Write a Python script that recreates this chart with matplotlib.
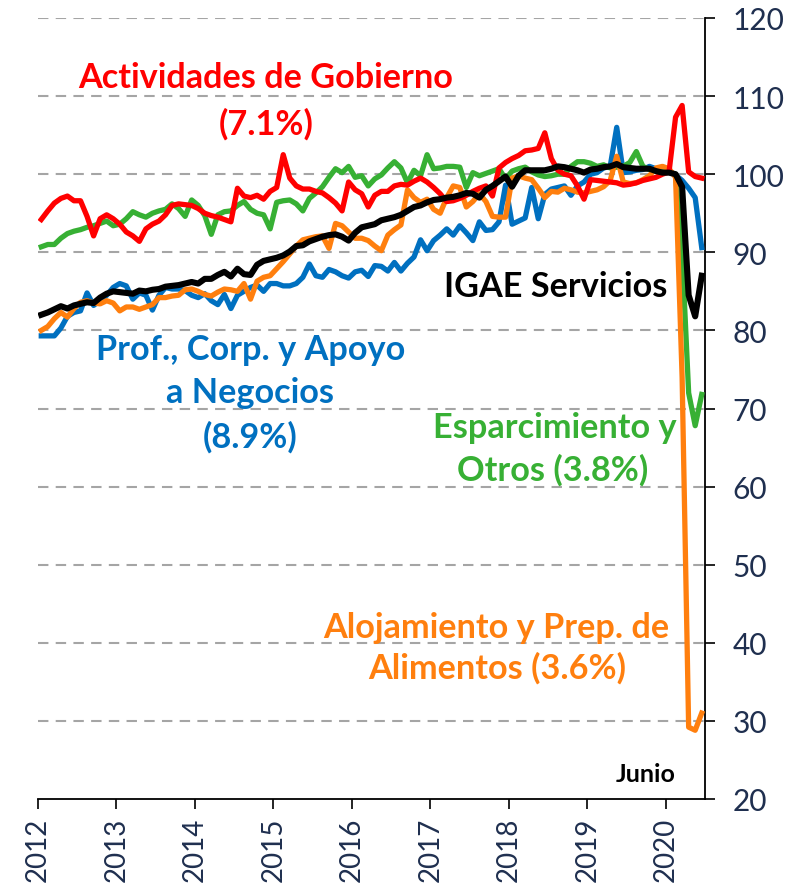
import matplotlib
matplotlib.use("Agg")
import matplotlib.pyplot as plt
import numpy as np

# Monthly index values, Jan 2012 - Jun 2020
gobierno = [94.2, 95.3, 96.3, 96.9, 97.2, 96.6, 96.6, 94.6, 92.1, 94.3, 94.8, 94.3,
            93.6, 92.6, 92.1, 91.4, 93.0, 93.6, 94.0, 94.8, 96.0, 96.2, 96.1, 96.0,
            95.6, 95.0, 94.7, 94.5, 94.2, 93.9, 98.2, 97.2, 97.0, 97.3, 96.8, 97.8,
            98.3, 102.5, 99.5, 98.5, 98.1, 98.1, 97.8, 97.6, 97.0, 96.3, 95.3, 99.0,
            98.0, 97.5, 95.8, 97.3, 97.8, 97.8, 98.5, 98.7, 98.6, 99.1, 99.5, 99.0,
            98.3, 97.5, 96.5, 96.6, 96.9, 97.3, 97.8, 98.2, 98.5, 97.2, 100.8, 101.5,
            102.0, 102.4, 103.0, 103.1, 103.3, 105.3, 102.0, 100.5, 100.0, 99.8, 98.5, 96.8,
            99.3, 99.2, 99.1, 99.0, 98.9, 98.6, 98.7, 98.9, 99.2, 99.4, 99.6, 100.0,
            100.3, 107.3, 108.8, 100.3, 99.7, 99.5]

profesionales = [79.3, 79.3, 79.3, 80.3, 81.8, 82.3, 82.5, 84.8, 83.2, 83.8, 84.5, 85.5,
                 86.0, 85.7, 84.0, 84.8, 84.5, 82.6, 84.5, 85.5, 85.3, 85.3, 85.1, 84.5,
                 84.2, 84.7, 83.8, 83.3, 84.6, 82.8, 84.5, 85.0, 85.5, 85.8, 85.0, 86.0,
                 86.0, 85.7, 85.7, 86.0, 86.8, 88.5, 87.0, 86.8, 87.8, 87.5, 87.0, 86.7,
                 87.5, 87.7, 86.9, 88.3, 88.2, 87.6, 88.7, 87.6, 88.6, 89.4, 91.6, 90.2,
                 91.5, 92.2, 93.0, 92.2, 93.4, 92.5, 91.5, 93.9, 92.8, 92.9, 93.9, 98.6,
                 93.6, 94.0, 94.4, 98.3, 94.3, 97.4, 98.1, 98.3, 98.5, 97.3, 98.5, 99.0,
                 100.0, 100.2, 100.8, 101.0, 106.0, 100.2, 100.3, 100.5, 100.6, 101.0, 100.7, 100.4,
                 100.3, 99.9, 99.2, 98.2, 97.0, 90.6]

alojamiento = [80.0, 80.5, 81.5, 82.3, 81.7, 82.8, 83.6, 83.8, 83.5, 83.4, 83.8, 83.5,
               82.5, 83.0, 83.0, 82.7, 83.0, 83.3, 84.2, 84.2, 84.4, 84.5, 85.2, 85.3,
               85.0, 84.6, 84.4, 84.9, 85.3, 85.2, 85.0, 86.0, 84.0, 86.3, 86.8, 87.0,
               87.9, 88.8, 89.8, 90.8, 91.6, 91.8, 92.0, 92.1, 90.5, 93.7, 93.4, 92.6,
               91.8, 91.8, 91.5, 90.8, 90.2, 92.2, 92.9, 93.5, 98.0, 97.0, 96.4, 96.8,
               95.5, 95.0, 97.0, 98.5, 98.3, 95.8, 96.5, 97.5, 96.5, 94.6, 94.5, 94.5,
               99.5, 99.8, 99.5, 99.3, 98.2, 97.0, 97.8, 97.7, 98.2, 98.0, 97.7, 97.6,
               97.8, 98.0, 98.4, 99.2, 102.3, 99.0, 98.8, 98.9, 99.3, 99.8, 100.8, 101.0,
               100.7, 99.6, 74.0, 29.2, 28.8, 31.0]

esparcimiento = [90.7, 91.0, 91.0, 91.8, 92.4, 92.7, 92.9, 93.2, 93.4, 93.7, 94.0, 93.4,
                 93.6, 94.3, 95.2, 94.8, 94.5, 95.0, 95.3, 95.5, 96.2, 95.6, 94.6, 96.7,
                 96.0, 94.7, 92.3, 94.8, 95.2, 95.3, 96.0, 96.5, 95.5, 95.0, 94.8, 93.0,
                 96.4, 96.6, 96.7, 96.2, 95.3, 96.9, 97.6, 98.4, 99.6, 100.7, 100.2, 101.0,
                 99.6, 99.8, 98.5, 99.4, 99.9, 100.8, 101.6, 100.8, 98.9, 100.5, 99.8, 102.5,
                 100.7, 100.8, 101.0, 101.0, 100.9, 98.3, 100.2, 99.8, 100.1, 100.4, 100.7, 99.4,
                 100.4, 100.7, 100.9, 100.3, 99.9, 99.7, 99.8, 100.0, 100.0, 101.0, 101.6, 101.6,
                 101.4, 101.0, 101.2, 100.8, 100.9, 101.0, 101.5, 102.9, 101.0, 100.6, 100.4, 100.3,
                 100.3, 100.0, 90.0, 72.0, 67.8, 71.8]

igae_servicios = [82.0, 82.3, 82.7, 83.1, 82.8, 83.2, 83.4, 83.6, 83.5, 84.2, 84.7, 85.0,
                  84.9, 84.8, 84.7, 85.1, 85.0, 85.2, 85.3, 85.6, 85.7, 85.8, 86.0, 86.2,
                  86.0, 86.6, 86.6, 87.1, 87.5, 86.9, 87.9, 87.2, 87.1, 88.4, 88.9, 89.1,
                  89.3, 89.6, 90.1, 90.8, 90.9, 91.4, 91.7, 92.0, 92.2, 92.3, 92.0, 91.5,
                  92.5, 93.2, 93.4, 93.6, 94.1, 94.3, 94.5, 94.8, 95.3, 95.8, 96.0, 96.4,
                  96.7, 96.8, 97.0, 97.1, 97.3, 97.6, 97.5, 97.0, 98.0, 98.5, 99.1, 99.7,
                  98.4, 99.8, 100.5, 100.5, 100.5, 100.5, 100.7, 101.0, 100.9, 100.7, 100.5, 100.2,
                  100.6, 100.7, 100.9, 101.0, 101.3, 100.9, 100.8, 100.7, 100.7, 100.7, 100.4, 100.2,
                  100.2, 100.0, 98.4, 84.5, 81.8, 87.0]

start_year = 2012
year_ticks = list(range(2012, 2021))
y_ticks = list(range(20, 130, 10))

n = len(igae_servicios)
x = start_year + (np.arange(n) + 0.5) / 12.0

W, H = 789, 887
fig = plt.figure(figsize=(W / 100, H / 100), dpi=100)
ax = fig.add_axes([38 / W, 1 - 800 / H, (705 - 38) / W, (800 - 19) / H])

FONT = "Lato"
navy = "#1F2F4F"

for yv in y_ticks[1:]:
    ax.axhline(yv, color="#A5A5A5", lw=1.5, ls=(0, (5, 3.5)), zorder=1)

lw = 3.8
ax.plot(x, profesionales, color="#0070C0", lw=lw, zorder=3, solid_joinstyle="round")
ax.plot(x, esparcimiento, color="#37B034", lw=lw, zorder=4, solid_joinstyle="round")
ax.plot(x, alojamiento, color="#FF7F0E", lw=lw, zorder=5, solid_joinstyle="round")
ax.plot(x, gobierno, color="#FF0000", lw=lw, zorder=6, solid_joinstyle="round")
ax.plot(x, igae_servicios, color="#000000", lw=4.4, zorder=7, solid_joinstyle="round")

ax.set_xlim(start_year, start_year + n / 12.0)
ax.set_ylim(20, 120)
ax.set_xticks(year_ticks)
ax.set_xticklabels([str(y) for y in year_ticks], rotation=90, va="top", ha="center",
                   fontfamily=FONT, fontsize=20, color=navy)
ax.set_yticks(y_ticks)
ax.set_yticklabels([str(v) for v in y_ticks], fontfamily=FONT, fontsize=21.5, color=navy)
ax.yaxis.tick_right()
ax.tick_params(axis="y", direction="out", length=7, width=1.2, pad=13, colors="black",
               labelcolor=navy)
ax.tick_params(axis="x", direction="out", length=7, width=1.2, pad=6, colors="black",
               labelcolor=navy)
for s in ["top", "left"]:
    ax.spines[s].set_visible(False)
for s in ["bottom", "right"]:
    ax.spines[s].set_linewidth(1.3)
    ax.spines[s].set_color("black")


def ftext(px, py, s, color, size=24.7):
    fig.text(px / W, 1 - py / H, s, color=color, fontsize=size, fontweight="bold",
             fontfamily=FONT, ha="center", va="center")


ftext(266, 78, "Actividades de Gobierno", "#FF0000")
ftext(266, 124, "(7.1%)", "#FF0000")
ftext(556, 287, "IGAE Servicios", "black")
ftext(251, 350, "Prof., Corp. y Apoyo", "#0070C0")
ftext(250, 393, "a Negocios", "#0070C0")
ftext(250, 437, "(8.9%)", "#0070C0")
ftext(555, 428, "Esparcimiento y", "#37B034")
ftext(553, 470, "Otros (3.8%)", "#37B034")
ftext(496, 628, "Alojamiento y Prep. de", "#FF7F0E")
ftext(497, 668, "Alimentos (3.6%)", "#FF7F0E")
ftext(646, 775, "Junio", "black", size=18)

fig.savefig("out.png", dpi=100)
